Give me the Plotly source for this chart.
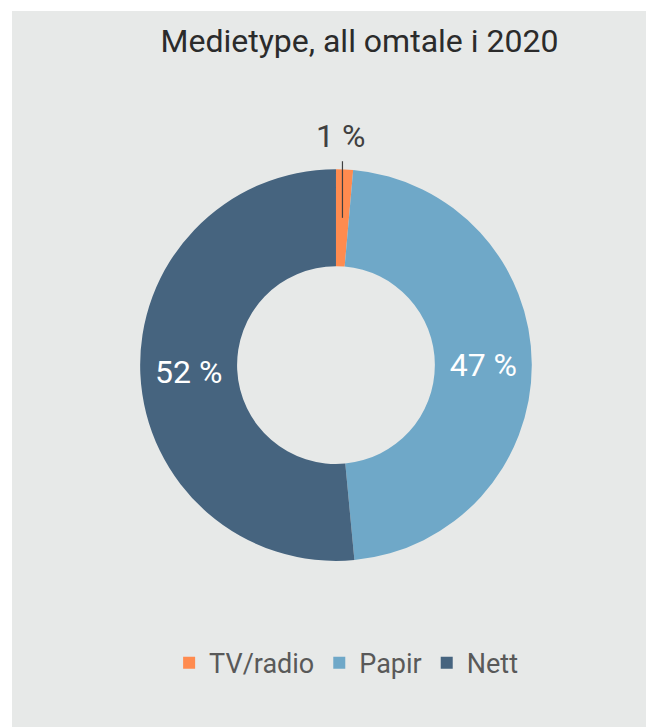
import math
import plotly.graph_objects as go

# ---- data ----
categories = ["TV/radio", "Papir", "Nett"]
shares = [1.4, 47.1, 51.5]          # percent of all coverage in 2020
slice_labels = [f"{round(v)} %" for v in shares]
colors = ["#FF8B4F", "#6FA8C8", "#46647F"]
title_text = "Medietype, all omtale i 2020"

# ---- layout geometry ----
W, H = 634, 716
dom_x = [0.202, 0.820]
dom_y = [0.232, 0.779]
hole = 0.505

# small slice gets its label outside (as annotation with leader line)
inside_text = ["" if v < 5 else t for v, t in zip(shares, slice_labels)]

fig = go.Figure()
fig.add_trace(go.Pie(
    labels=categories,
    values=shares,
    text=inside_text,
    textinfo="text",
    textposition="inside",
    insidetextorientation="horizontal",
    insidetextfont=dict(family="Roboto", size=32, color="white"),
    marker=dict(colors=colors, line=dict(width=0)),
    hole=hole,
    sort=False,
    direction="clockwise",
    rotation=0,
    domain=dict(x=dom_x, y=dom_y),
    hoverinfo="label+percent",
))

# leader line for the small slice, derived from the slice's mid angle
cx_px = (dom_x[0] + dom_x[1]) / 2 * W
cy_px = (1 - (dom_y[0] + dom_y[1]) / 2) * H
r_out = min((dom_x[1] - dom_x[0]) * W, (dom_y[1] - dom_y[0]) * H) / 2
r_mid = r_out * (1 + hole) / 2
mid_frac = shares[0] / 2 / sum(shares)
ang = 2 * math.pi * mid_frac
x_line = cx_px + r_mid * math.sin(ang)
y0 = cy_px - r_mid * math.cos(ang)
y1 = cy_px - (r_out + 8)
fig.add_shape(type="line", xref="paper", yref="paper",
              x0=x_line / W, x1=x_line / W, y0=1 - y0 / H, y1=1 - y1 / H,
              line=dict(color="#404040", width=1.2))
fig.add_annotation(x=x_line / W - 0.003, y=1 - (y1 - 4) / H, xref="paper", yref="paper",
                   text=slice_labels[0], showarrow=False, xanchor="center", yanchor="bottom",
                   font=dict(family="Roboto", size=32, color="#404040"))

fig.update_layout(
    width=W, height=H,
    margin=dict(l=0, r=0, t=0, b=0),
    paper_bgcolor="#E7E9E8",
    plot_bgcolor="#E7E9E8",
    title=dict(text=title_text, x=0.548, xanchor="center", y=0.959, yanchor="middle",
               yref="container",
               font=dict(family="Roboto", size=32, color="#2B2B2B")),
    showlegend=True,
    legend=dict(orientation="h", x=0.527, xanchor="center", y=0.089, yanchor="middle",
                font=dict(family="Roboto", size=27, color="#595959"),
                itemsizing="constant", traceorder="normal", bgcolor="rgba(0,0,0,0)"),
)

fig.write_html("out.html",
               post_script="document.body.style.margin='11px 0 0 12px';document.body.style.overflow='hidden';")
